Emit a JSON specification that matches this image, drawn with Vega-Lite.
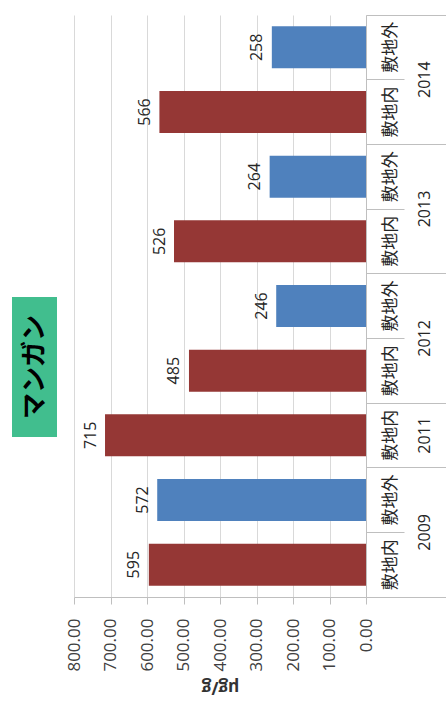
{
  "$schema": "https://vega.github.io/schema/vega-lite/v6.json",
  "padding": {"left": 12, "top": 14, "right": 0, "bottom": 20},
  "background": "white",
  "config": {"view": {"stroke": null}, "font": "Open Sans"},
  "datasets": {
    "bars": [
      {"cat": "2014 敷地外", "year": "2014", "type": "敷地外", "value": 258},
      {"cat": "2014 敷地内", "year": "2014", "type": "敷地内", "value": 566},
      {"cat": "2013 敷地外", "year": "2013", "type": "敷地外", "value": 264},
      {"cat": "2013 敷地内", "year": "2013", "type": "敷地内", "value": 526},
      {"cat": "2012 敷地外", "year": "2012", "type": "敷地外", "value": 246},
      {"cat": "2012 敷地内", "year": "2012", "type": "敷地内", "value": 485},
      {"cat": "2011 敷地内", "year": "2011", "type": "敷地内", "value": 715},
      {"cat": "2009 敷地外", "year": "2009", "type": "敷地外", "value": 572},
      {"cat": "2009 敷地内", "year": "2009", "type": "敷地内", "value": 595}
    ],
    "years": [
      {"year": "2014", "anchor": "2014 敷地内", "pair": true},
      {"year": "2013", "anchor": "2013 敷地内", "pair": true},
      {"year": "2012", "anchor": "2012 敷地内", "pair": true},
      {"year": "2011", "anchor": "2011 敷地内", "pair": false},
      {"year": "2009", "anchor": "2009 敷地内", "pair": true}
    ]
  },
  "spacing": 8,
  "hconcat": [
    {
      "spacing": 0,
      "vconcat": [
        {
          "width": 45,
          "height": 282,
          "data": {"values": [{"blank": ""}]},
          "mark": {"type": "text"},
          "encoding": {"text": {"field": "blank"}}
        },
        {
          "width": 45,
          "height": 140,
          "view": {"fill": "#41BE8E", "stroke": null},
          "data": {"values": [{"label": "マンガン"}]},
          "mark": {"type": "text", "angle": 270, "font": "Noto Sans CJK JP", "fontWeight": "bold", "fontSize": 26, "color": "black", "baseline": "middle", "align": "center"},
          "encoding": {"text": {"field": "label"}}
        }
      ]
    },
    {
      "width": 292,
      "height": 582,
      "data": {"name": "bars"},
      "encoding": {
        "y": {
          "field": "cat",
          "type": "nominal",
          "scale": {
            "domain": ["2014 敷地外", "2014 敷地内", "2013 敷地外", "2013 敷地内", "2012 敷地外", "2012 敷地内", "2011 敷地内", "2009 敷地外", "2009 敷地内"],
            "paddingInner": 0,
            "paddingOuter": 0
          },
          "axis": {
            "orient": "right",
            "title": null,
            "labels": false,
            "grid": false,
            "domain": true,
            "domainColor": "#BFBFBF",
            "ticks": true,
            "tickColor": "#BFBFBF",
            "bandPosition": 1,
            "tickExtra": true,
            "tickSize": {"condition": {"test": "isString(datum.value) && indexof(datum.value, '敷地外') >= 0", "value": 38}, "value": 80}
          }
        }
      },
      "layer": [
        {
          "mark": {"type": "bar", "height": {"band": 0.65}},
          "encoding": {
            "x": {
              "field": "value",
              "type": "quantitative",
              "scale": {"domain": [0, 800], "reverse": true, "nice": false},
              "axis": {
                "values": [0, 100, 200, 300, 400, 500, 600, 700, 800],
                "tickCount": 9,
                "format": ".2f",
                "labelOverlap": false,
                "labelAngle": 270,
                "labelFontSize": 17,
                "labelColor": "#404040",
                "labelPadding": 14,
                "tickSize": 7,
                "tickColor": "#BFBFBF",
                "domainColor": "#BFBFBF",
                "gridColor": "#D9D9D9",
                "title": "μg/g",
                "titleAngle": 180,
                "titleBaseline": "bottom",
                "titleFontSize": 17,
                "titleFontWeight": "bold",
                "titleColor": "#333333",
                "titlePadding": 6
              }
            },
            "color": {
              "field": "type",
              "type": "nominal",
              "scale": {"domain": ["敷地内", "敷地外"], "range": ["#953735", "#4F81BD"]},
              "legend": null
            }
          }
        },
        {
          "mark": {"type": "text", "angle": 270, "baseline": "bottom", "align": "center", "dy": -6.5, "fontSize": 16, "color": "#262626"},
          "encoding": {
            "x": {"field": "value", "type": "quantitative"},
            "text": {"field": "value", "type": "quantitative"}
          }
        },
        {
          "mark": {"type": "text", "angle": 270, "baseline": "middle", "align": "center", "dy": 25, "font": "Noto Sans CJK JP", "fontSize": 17, "color": "#262626"},
          "encoding": {
            "x": {"datum": 0},
            "text": {"field": "type"}
          }
        },
        {
          "data": {"name": "years"},
          "transform": [{"filter": "datum.pair"}],
          "mark": {"type": "text", "angle": 270, "baseline": "middle", "align": "center", "dy": 59, "fontSize": 16, "color": "#262626"},
          "encoding": {
            "y": {"field": "anchor", "type": "nominal", "bandPosition": 0},
            "x": {"datum": 0},
            "text": {"field": "year"}
          }
        },
        {
          "data": {"name": "years"},
          "transform": [{"filter": "!datum.pair"}],
          "mark": {"type": "text", "angle": 270, "baseline": "middle", "align": "center", "dy": 59, "fontSize": 16, "color": "#262626"},
          "encoding": {
            "y": {"field": "anchor", "type": "nominal"},
            "x": {"datum": 0},
            "text": {"field": "year"}
          }
        }
      ]
    }
  ]
}
